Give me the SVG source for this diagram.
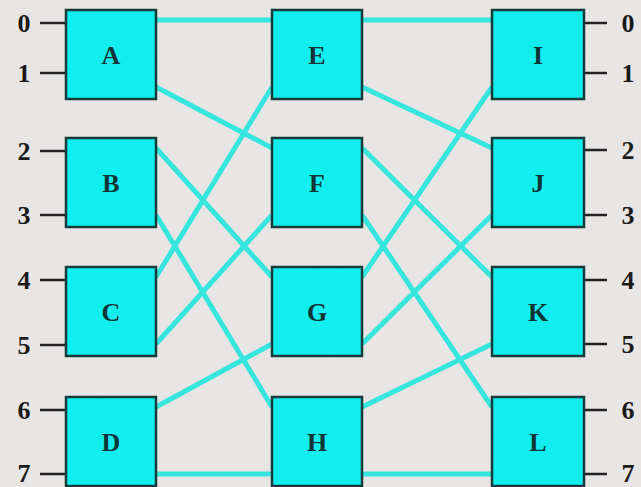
<svg xmlns="http://www.w3.org/2000/svg" width="641" height="487" viewBox="0 0 641 487">
  <defs>
    <filter id="grain" x="0" y="0" width="100%" height="100%">
      <feTurbulence type="fractalNoise" baseFrequency="0.9" numOctaves="2" seed="3" result="n"/>
      <feColorMatrix in="n" type="matrix" values="0 0 0 0 0.93  0 0 0 0 0.9  0 0 0 0 0.9  0 0 0 0.35 0"/>
    </filter>
    <style>
      .bg { fill: #e5e3e1; }
      .box { fill: #12eeee; stroke: #173a3a; stroke-width: 2.5; }
      .lbl { font-family: "Liberation Serif", "Times New Roman", serif; font-weight: bold; font-size: 26px; fill: #0d3535; text-anchor: middle; }
      .port { font-family: "Liberation Serif", "Times New Roman", serif; font-weight: bold; font-size: 26px; fill: #1a1a1a; text-anchor: middle; }
      .pl { stroke: #222; stroke-width: 2.5; }
      .wire { stroke: #36e6de; stroke-width: 5; fill: none; stroke-linecap: butt; }
    </style>
  </defs>
  <rect class="bg" x="0" y="0" width="641" height="487"/>
  <rect x="0" y="0" width="641" height="487" filter="url(#grain)"/>

  <g id="connectors">
    <line class="wire" x1="156" y1="20" x2="272" y2="20"/>
    <line class="wire" x1="156" y1="87" x2="272" y2="148"/>
    <line class="wire" x1="156" y1="148" x2="272" y2="277"/>
    <line class="wire" x1="156" y1="215" x2="272" y2="407"/>
    <line class="wire" x1="156" y1="277" x2="272" y2="87"/>
    <line class="wire" x1="156" y1="344" x2="272" y2="215"/>
    <line class="wire" x1="156" y1="407" x2="272" y2="344"/>
    <line class="wire" x1="156" y1="474" x2="272" y2="474"/>

    <line class="wire" x1="362" y1="20" x2="492" y2="20"/>
    <line class="wire" x1="362" y1="87" x2="492" y2="148"/>
    <line class="wire" x1="362" y1="148" x2="492" y2="277"/>
    <line class="wire" x1="362" y1="215" x2="492" y2="407"/>
    <line class="wire" x1="362" y1="277" x2="492" y2="87"/>
    <line class="wire" x1="362" y1="344" x2="492" y2="215"/>
    <line class="wire" x1="362" y1="407" x2="492" y2="344"/>
    <line class="wire" x1="362" y1="474" x2="492" y2="474"/>
  </g>

  <g id="inputs">
    <line class="pl" x1="40" y1="23" x2="66" y2="23"/><text class="port" x="24" y="32">0</text>
    <line class="pl" x1="40" y1="73" x2="66" y2="73"/><text class="port" x="24" y="82">1</text>
    <line class="pl" x1="40" y1="151" x2="66" y2="151"/><text class="port" x="24" y="160">2</text>
    <line class="pl" x1="40" y1="215" x2="66" y2="215"/><text class="port" x="24" y="224">3</text>
    <line class="pl" x1="40" y1="280" x2="66" y2="280"/><text class="port" x="24" y="289">4</text>
    <line class="pl" x1="40" y1="345" x2="66" y2="345"/><text class="port" x="24" y="354">5</text>
    <line class="pl" x1="40" y1="410" x2="66" y2="410"/><text class="port" x="24" y="419">6</text>
    <line class="pl" x1="40" y1="474" x2="66" y2="474"/><text class="port" x="24" y="482">7</text>
  </g>

  <g id="outputs">
    <line class="pl" x1="584" y1="23" x2="607" y2="23"/><text class="port" x="628" y="32">0</text>
    <line class="pl" x1="584" y1="73" x2="607" y2="73"/><text class="port" x="628" y="82">1</text>
    <line class="pl" x1="584" y1="150" x2="607" y2="150"/><text class="port" x="628" y="159">2</text>
    <line class="pl" x1="584" y1="215" x2="607" y2="215"/><text class="port" x="628" y="224">3</text>
    <line class="pl" x1="584" y1="280" x2="607" y2="280"/><text class="port" x="628" y="289">4</text>
    <line class="pl" x1="584" y1="344" x2="607" y2="344"/><text class="port" x="628" y="353">5</text>
    <line class="pl" x1="584" y1="410" x2="607" y2="410"/><text class="port" x="628" y="419">6</text>
    <line class="pl" x1="584" y1="474" x2="607" y2="474"/><text class="port" x="628" y="482">7</text>
  </g>

  <g id="A"><rect class="box" x="66" y="10" width="90" height="89"/><text class="lbl" x="111" y="64">A</text></g>
  <g id="B"><rect class="box" x="66" y="138" width="90" height="89"/><text class="lbl" x="111" y="192">B</text></g>
  <g id="C"><rect class="box" x="66" y="267" width="90" height="89"/><text class="lbl" x="111" y="321">C</text></g>
  <g id="D"><rect class="box" x="66" y="397" width="90" height="89"/><text class="lbl" x="111" y="451">D</text></g>

  <g id="E"><rect class="box" x="272" y="10" width="90" height="89"/><text class="lbl" x="317" y="64">E</text></g>
  <g id="F"><rect class="box" x="272" y="138" width="90" height="89"/><text class="lbl" x="317" y="192">F</text></g>
  <g id="G"><rect class="box" x="272" y="267" width="90" height="89"/><text class="lbl" x="317" y="321">G</text></g>
  <g id="H"><rect class="box" x="272" y="397" width="90" height="89"/><text class="lbl" x="317" y="451">H</text></g>

  <g id="I"><rect class="box" x="492" y="10" width="92" height="89"/><text class="lbl" x="538" y="64">I</text></g>
  <g id="J"><rect class="box" x="492" y="138" width="92" height="89"/><text class="lbl" x="538" y="192">J</text></g>
  <g id="K"><rect class="box" x="492" y="267" width="92" height="89"/><text class="lbl" x="538" y="321">K</text></g>
  <g id="L"><rect class="box" x="492" y="397" width="92" height="89"/><text class="lbl" x="538" y="451">L</text></g>
</svg>
